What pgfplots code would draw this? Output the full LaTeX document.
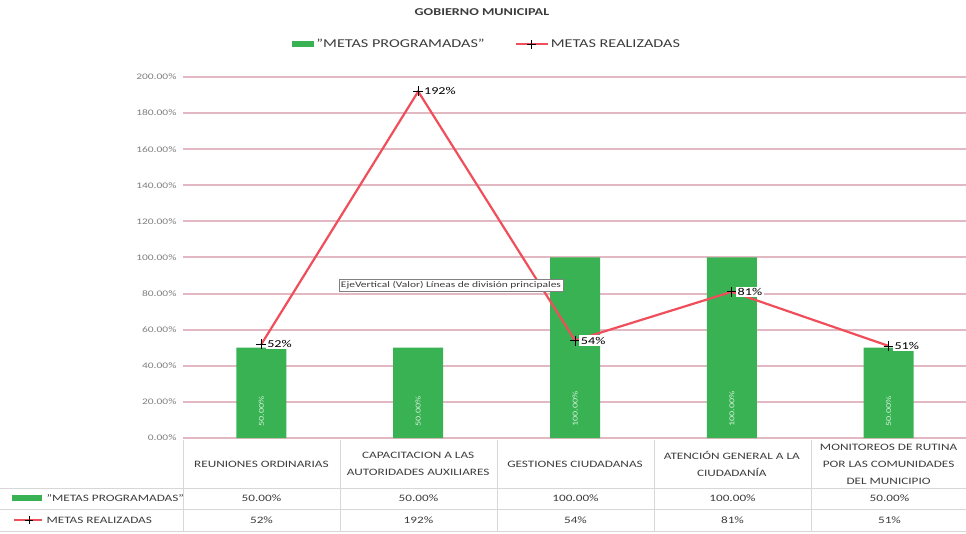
\documentclass[border=0pt]{standalone}
\usepackage{fontspec}
\setmainfont[FakeStretch=1.35]{Carlito}
\usepackage{pgfplots}
\usepackage{pgfplotstable}
\pgfplotsset{compat=1.18}
\pgfkeys{/pgf/number format/assume math mode=true}
\definecolor{barGreen}{RGB}{56,178,82}
\definecolor{lineRed}{RGB}{240,78,90}
\definecolor{gridPink}{RGB}{226,184,194}
\definecolor{tblGray}{RGB}{215,215,215}
\definecolor{txtGray}{RGB}{60,60,60}

\pgfplotstableread{
x prog real
0 50 52
1 50 192
2 100 54
3 100 81
4 50 51
}\datatable

\begin{document}
\begin{tikzpicture}[x=1pt,y=1pt]
\path[use as bounding box] (0,0) rectangle (966,533);
% table grid
\draw[tblGray, line width=0.6pt] (0,45)--(966,45) (0,24)--(966,24) (0,2)--(966,2);
\foreach \xx in {183,340,497,654,811} \draw[tblGray,line width=0.6pt] (\xx,93)--(\xx,2);
\node[font=\bfseries\fontsize{10.5}{12}\selectfont, text=txtGray] at (482,521) {GOBIERNO MUNICIPAL};
\begin{axis}[at={(183pt,95pt)}, anchor=south west, scale only axis,
  width=784pt, height=361pt,
  xmin=-0.5, xmax=4.5, ymin=0, ymax=200,
  ytick={0,20,...,200}, xtick={0,...,4},
  xticklabels={{REUNIONES ORDINARIAS},{CAPACITACION A LAS\\AUTORIDADES AUXILIARES},{GESTIONES CIUDADANAS},{ATENCIÓN GENERAL A LA\\CIUDADANÍA},{MONITOREOS DE RUTINA\\POR LAS COMUNIDADES\\DEL MUNICIPIO}},
  ymajorgrids, major grid style={gridPink, line width=2pt},
  axis line style={draw=none}, tick style={draw=none},
  yticklabel={\pgfmathprintnumber[fixed,fixed zerofill,precision=2]{\tick}\%},
  yticklabel style={font=\fontsize{8.5}{9}\selectfont, text=gray, xshift=-3pt},
  xticklabel style={anchor=center, yshift=-26pt, align=center, font=\fontsize{9.8}{17}\selectfont, text=txtGray},
  clip=false,
  legend style={at={(0.388,1.091)}, anchor=center, draw=none, fill=none,
    legend columns=2, font=\fontsize{12}{14}\selectfont, text=txtGray,
    /tikz/every even column/.append style={column sep=28pt}},
]
\addplot[ybar, bar width=50pt, fill=barGreen, draw=none,
  legend image code/.code={\fill[barGreen] (0pt,-3pt) rectangle (22pt,3pt);}]
  table[x=x,y=prog]{\datatable};
\addlegendentry{"METAS PROGRAMADAS"}
\addplot[forget plot, draw=none, mark=none, point meta=\thisrow{prog},
  nodes near coords={\pgfmathprintnumber[fixed,fixed zerofill,precision=2]{\pgfplotspointmeta}\%},
  every node near coord/.append style={rotate=90, anchor=west, xshift=8pt,
    font=\fontsize{7.5}{8}\selectfont, text=white!80!barGreen}]
  table[x=x, y expr=0]{\datatable};
\addplot[lineRed, line width=2.2pt, mark=+, mark size=5pt,
  mark options={black, line width=0.8pt},
  point meta=y,
  nodes near coords={\pgfmathprintnumber[fixed,precision=0]{\pgfplotspointmeta}\%},
  every node near coord/.append style={anchor=west, fill=white, inner sep=1.5pt, xshift=4pt, yshift=0pt,
    font=\fontsize{10.5}{12}\selectfont, text=black},
  legend image code/.code={\draw[lineRed, line width=2.2pt] (0pt,0pt) -- (32pt,0pt);
    \draw[black, line width=0.8pt] (16pt,-4.5pt)--(16pt,4.5pt) (11.5pt,0pt)--(20.5pt,0pt);}]
  table[x=x,y=real]{\datatable};
\addlegendentry{METAS REALIZADAS}
\end{axis}
% tooltip
\node[draw=gray, fill=white, inner sep=2pt, font=\fontsize{8.5}{9}\selectfont, text=txtGray] at (451,247.5) {EjeVertical (Valor) Líneas de división principales};
% data table rows
\fill[barGreen] (12,32) rectangle (42,38);
\node[anchor=west, font=\fontsize{9.8}{11}\selectfont, text=txtGray] at (43,35) {"METAS PROGRAMADAS"};
\draw[lineRed, line width=2pt] (14,13)--(42,13);
\draw[black, line width=0.7pt] (29,9)--(29,17) (25,13)--(33,13);
\node[anchor=west, font=\fontsize{9.8}{11}\selectfont, text=txtGray] at (43,13) {METAS REALIZADAS};
\foreach \xx/\pv/\rv in {261.5/50.00/52, 418.5/50.00/192, 575.5/100.00/54, 732.5/100.00/81, 889.5/50.00/51}{
  \node[font=\fontsize{9.8}{11}\selectfont, text=txtGray] at (\xx,35) {\pv\%};
  \node[font=\fontsize{9.8}{11}\selectfont, text=txtGray] at (\xx,13) {\rv\%};
}
\end{tikzpicture}
\end{document}
